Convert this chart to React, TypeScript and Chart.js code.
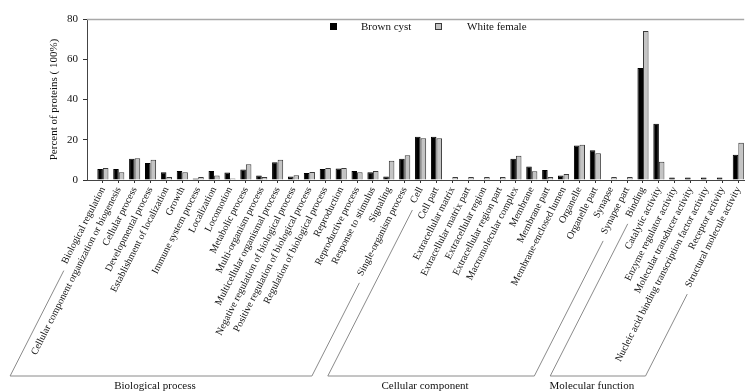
import React, { useEffect, useRef } from 'react';
import { Chart, registerables } from 'chart.js';

Chart.register(...registerables);

const categories = [
  'Biological regulation',
  'Cellular component organization or biogenesis',
  'Cellular process',
  'Developmental process',
  'Establishment of localization',
  'Growth',
  'Immune system process',
  'Localization',
  'Locomotion',
  'Metabolic process',
  'Multi-organism process',
  'Multicellular organismal process',
  'Negative regulation of biological process',
  'Positive regulation of biological process',
  'Regulation of biological process',
  'Reproduction',
  'Reproductive process',
  'Response to stimulus',
  'Signaling',
  'Single-organism process',
  'Cell',
  'Cell part',
  'Extracellular matrix',
  'Extracellular matrix part',
  'Extracellular region',
  'Extracellular region part',
  'Macromolecular complex',
  'Membrane',
  'Membrane part',
  'Membrane-enclosed lumen',
  'Organelle',
  'Organelle part',
  'Synapse',
  'Synapse part',
  'Binding',
  'Catalytic activity',
  'Enzyme regulator activity',
  'Molecular transducer activity',
  'Nucleic acid binding transcription factor activity',
  'Receptor activity',
  'Structural molecule activity',
];

const brownCyst = [
  5.5, 5.5, 10.5, 8.5, 3.8, 4.5, 0.7, 4.5, 3.7, 5.2,
  2.2, 8.8, 1.7, 3.5, 5.5, 5.7, 4.5, 3.8, 1.7, 10.6,
  21.5, 21.5, 0.3, 0.3, 0.3, 0.3, 10.5, 6.7, 5.0, 2.2,
  17.1, 14.8, 0.2, 0.3, 55.7, 27.9, 1.3, 1.3, 1.3, 1.3, 12.6,
];

const whiteFemale = [
  6.0, 3.8, 10.8, 10.1, 1.5, 3.8, 1.5, 2.2, 0.8, 7.8,
  1.5, 10.1, 2.3, 4.0, 6.0, 6.0, 3.8, 4.5, 9.6, 12.3,
  20.8, 20.8, 1.5, 1.5, 1.5, 1.5, 12.0, 4.3, 1.5, 3.0,
  17.5, 13.3, 1.5, 1.5, 74.0, 9.1, 0, 0, 0, 0, 18.5,
];

const yTicks = [0, 20, 40, 60, 80];

const groupNames = ['Biological process', 'Cellular component', 'Molecular function'];
const groupStarts = [0, 20, 34];
const groupEnds = [19, 33, 40];

const FONT = '"Liberation Serif", "Times New Roman", serif';
const ROT = 63;
const TICK_SIZE = 10;

export default function App() {
  const ref = useRef<HTMLCanvasElement>(null);

  useEffect(() => {
    document.body.style.margin = '0';
    const canvas = ref.current!;
    const overlay = {
      id: 'overlay',
      afterDraw(chart: any) {
        const { ctx, chartArea } = chart;
        const xs = chart.scales.x;
        ctx.save();
        // top border line
        ctx.strokeStyle = '#a8a8a8';
        ctx.lineWidth = 1.5;
        ctx.beginPath();
        ctx.moveTo(chartArea.left, chartArea.top + 0.5);
        ctx.lineTo(chartArea.right, chartArea.top + 0.5);
        ctx.stroke();

        // legend
        const ds = chart.data.datasets;
        const lx = chartArea.left;
        const ly = chartArea.top;
        ctx.font = `11px ${FONT}`;
        ctx.textBaseline = 'middle';
        ctx.textAlign = 'left';
        const items = [
          { sq: lx + 243, tx: lx + 274 },
          { sq: lx + 348, tx: lx + 380 },
        ];
        items.forEach((it, i) => {
          ctx.fillStyle = ds[i].backgroundColor;
          ctx.fillRect(it.sq, ly + 4, 7, 7);
          ctx.strokeStyle = ds[i].borderColor;
          ctx.lineWidth = 1;
          ctx.strokeRect(it.sq + 0.5, ly + 4.5, 6, 6);
          ctx.fillStyle = '#111';
          ctx.fillText(ds[i].label, it.tx, ly + 8);
        });

        // group brackets
        const th = (ROT * Math.PI) / 180;
        const dx = -Math.cos(th);
        const dy = Math.sin(th);
        const bottomY = chartArea.bottom + 196;
        const anchorY = chartArea.bottom + 8;
        ctx.strokeStyle = '#8a8a8a';
        ctx.lineWidth = 1;
        const lineFor = (idx: number) => {
          ctx.font = `${TICK_SIZE}px ${FONT}`;
          const w = ctx.measureText(categories[idx]).width;
          const ax = xs.getPixelForValue(idx) + 3;
          const s = w + 8;
          const sx = ax + dx * s;
          const sy = anchorY + dy * s;
          const t = (bottomY - anchorY) / dy;
          const ex = ax + dx * t;
          return { sx, sy, ex, ey: bottomY };
        };
        groupNames.forEach((name, g) => {
          const a = lineFor(groupStarts[g]);
          const b = lineFor(groupEnds[g]);
          ctx.beginPath();
          ctx.moveTo(a.sx, a.sy);
          ctx.lineTo(a.ex, a.ey);
          ctx.lineTo(b.ex, b.ey);
          ctx.lineTo(b.sx, b.sy);
          ctx.stroke();
          ctx.font = `11px ${FONT}`;
          ctx.fillStyle = '#111';
          ctx.textAlign = 'center';
          ctx.textBaseline = 'middle';
          ctx.fillText(name, (a.ex + b.ex) / 2 - 6, bottomY + 10);
        });
        ctx.restore();
      },
    };

    const chart = new Chart(canvas, {
      type: 'bar',
      data: {
        datasets: [
          {
            label: 'Brown cyst',
            data: brownCyst.map((v, i) => ({ x: i, y: v })),
            backgroundColor: '#000000',
            borderColor: '#000000',
            borderWidth: 1,
            categoryPercentage: 0.7,
            barPercentage: 1,
          },
          {
            label: 'White female',
            data: whiteFemale.map((v, i) => ({ x: i, y: v })),
            backgroundColor: '#c4c4c4',
            borderColor: '#3a3a3a',
            borderWidth: 1,
            categoryPercentage: 0.7,
            barPercentage: 1,
          },
        ],
      } as any,
      options: {
        responsive: false,
        animation: false,
        layout: { padding: { top: 19, right: 0, bottom: 0, left: 0 } },
        plugins: { legend: { display: false }, tooltip: { enabled: false } },
        scales: {
          x: {
            type: 'linear',
            min: -1,
            max: 40.37,
            offset: false,
            grid: { offset: false, drawOnChartArea: false, tickLength: 3, color: '#333' },
            border: { color: '#444', width: 1 },
            afterBuildTicks: (s: any) => {
              s.ticks = categories.map((_, i) => ({ value: i }));
            },
            afterFit: (s: any) => {
              s.height = 211;
            },
            ticks: {
              autoSkip: false,
              minRotation: ROT,
              maxRotation: ROT,
              padding: 2,
              color: '#111',
              font: { family: FONT, size: TICK_SIZE },
              callback: (v: any) => categories[v] ?? '',
            },
          },
          y: {
            min: 0,
            max: 80,
            afterBuildTicks: (s: any) => {
              s.ticks = yTicks.map((v) => ({ value: v }));
            },
            afterFit: (s: any) => {
              s.width = 87;
            },
            grid: { drawOnChartArea: false, tickLength: 4, color: '#333' },
            border: { color: '#444', width: 1 },
            ticks: { padding: 5, color: '#111', font: { family: FONT, size: 11 } },
            title: {
              display: true,
              text: 'Percent of proteins ( 100%)',
              color: '#111',
              font: { family: FONT, size: 11 },
              padding: { top: 48, bottom: 0 },
            },
          },
        },
      } as any,
      plugins: [overlay],
    });
    return () => chart.destroy();
  }, []);

  return (
    <div style={{ position: 'fixed', left: 0, top: 0, width: 751, height: 391, background: '#fff' }}>
      <canvas ref={ref} width={751} height={391} style={{ display: 'block' }} />
    </div>
  );
}
